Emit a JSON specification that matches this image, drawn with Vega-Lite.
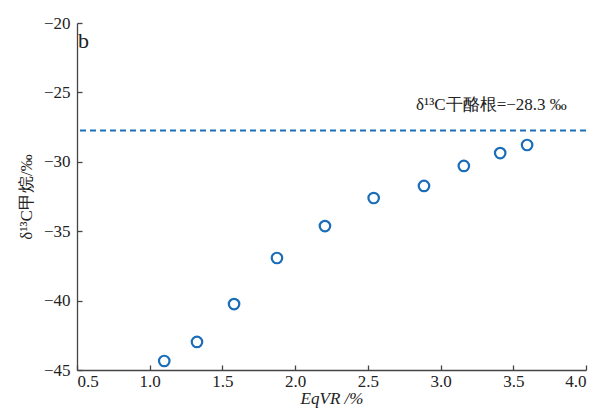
{
  "$schema": "https://vega.github.io/schema/vega-lite/v6.json",
  "width": 509,
  "height": 347,
  "autosize": {"type": "none"},
  "padding": {"left": 77, "top": 23, "right": 21, "bottom": 44},
  "background": "white",
  "config": {
    "view": {"stroke": null},
    "font": "Liberation Serif",
    "axis": {
      "domainColor": "#444444",
      "tickColor": "#444444",
      "labelColor": "#222222",
      "titleColor": "#222222",
      "labelFont": "Liberation Serif",
      "titleFont": "Liberation Serif",
      "labelFontSize": 17,
      "titleFontSize": 17,
      "titleFontWeight": "normal",
      "grid": false,
      "domainWidth": 1.3,
      "tickWidth": 1.3
    }
  },
  "datasets": {
    "pts": [
      {"EqVR": 1.10, "d13C": -44.35},
      {"EqVR": 1.325, "d13C": -42.98},
      {"EqVR": 1.58, "d13C": -40.25},
      {"EqVR": 1.875, "d13C": -36.93},
      {"EqVR": 2.205, "d13C": -34.63},
      {"EqVR": 2.54, "d13C": -32.61},
      {"EqVR": 2.886, "d13C": -31.74},
      {"EqVR": 3.16, "d13C": -30.30},
      {"EqVR": 3.41, "d13C": -29.37},
      {"EqVR": 3.595, "d13C": -28.79}
    ],
    "ref": [{"y": -27.75}],
    "labels": [
      {"x": 3.35, "y": -25.9, "t": "δ¹³C干酪根=−28.3 ‰", "size": 17, "align": "center"},
      {"x": 0.545, "y": -21.3, "t": "b", "size": 22, "align": "left"}
    ]
  },
  "layer": [
    {
      "data": {"name": "ref"},
      "mark": {"type": "rule", "color": "#1f6fb8", "strokeWidth": 2, "strokeDash": [6, 4]},
      "encoding": {
        "y": {"field": "y", "type": "quantitative", "scale": {"domain": [-45, -20]}}
      }
    },
    {
      "data": {"name": "pts"},
      "mark": {"type": "point", "shape": "circle", "filled": false, "color": "#1a6db8", "opacity": 1, "strokeWidth": 2.2, "size": 110},
      "encoding": {
        "x": {
          "field": "EqVR", "type": "quantitative",
          "scale": {"domain": [0.5, 4.0], "nice": false, "zero": false},
          "axis": {"values": [0.5, 1, 1.5, 2, 2.5, 3, 3.5, 4], "format": ".1f", "tickSize": -5, "labelPadding": 8, "title": "EqVR /%", "titleFontStyle": "italic", "titlePadding": 1}
        },
        "y": {
          "field": "d13C", "type": "quantitative",
          "scale": {"domain": [-45, -20], "nice": false, "zero": false},
          "axis": {"values": [-45, -40, -35, -30, -25, -20], "tickSize": -5, "labelPadding": 12, "title": "δ¹³C甲烷/‰", "titlePadding": 8}
        }
      }
    },
    {
      "data": {"name": "labels"},
      "mark": {"type": "text", "color": "#222222", "font": "Liberation Serif", "baseline": "middle"},
      "encoding": {
        "x": {"field": "x", "type": "quantitative"},
        "y": {"field": "y", "type": "quantitative"},
        "text": {"field": "t"},
        "size": {"field": "size", "type": "quantitative", "scale": null},
        "align": {"field": "align"}
      }
    }
  ]
}
